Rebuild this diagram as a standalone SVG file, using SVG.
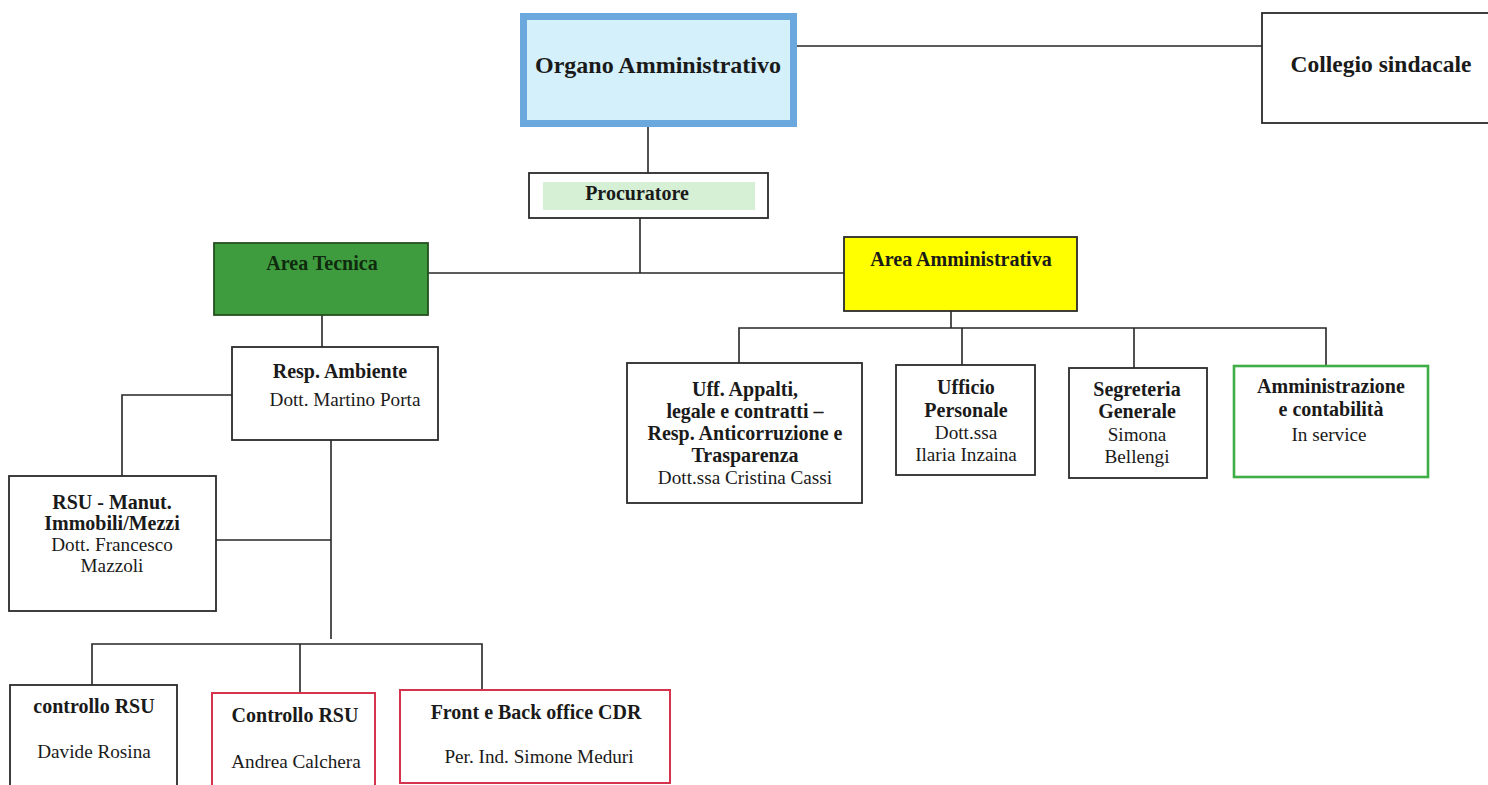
<svg xmlns="http://www.w3.org/2000/svg" width="1488" height="785" viewBox="0 0 1488 785">
<style>
  text { font-family: "Liberation Serif", "Times New Roman", serif; fill: #1a1a1a; text-anchor: middle; }
  .b { font-weight: bold; font-size: 20px; }
  .r { font-size: 19.2px; }
  .big { font-weight: bold; font-size: 23.5px; }
  .box { fill: #ffffff; stroke: #2a2a2a; stroke-width: 1.8; }
  .red { fill: #ffffff; stroke: #d6334f; stroke-width: 2; }
  .grn { fill: #ffffff; stroke: #3fae46; stroke-width: 2.6; }
  .ln { fill: none; stroke: #262626; stroke-width: 1.6; }
</style>
<rect width="1488" height="785" fill="#ffffff"/>

<g id="connectors">
  <path class="ln" d="M797 46 H1262"/>
  <path class="ln" d="M648 127 V173"/>
  <path class="ln" d="M640 218 V273"/>
  <path class="ln" d="M428 273 H844"/>
  <path class="ln" d="M322 315 V347"/>
  <path class="ln" d="M232 395 H122 V476"/>
  <path class="ln" d="M331 440 V639"/>
  <path class="ln" d="M216 540 H331"/>
  <path class="ln" d="M92 685 V644 H482 V690"/>
  <path class="ln" d="M300 644 V693"/>
  <path class="ln" d="M951 311 V328"/>
  <path class="ln" d="M739 363 V328 H1326 V366"/>
  <path class="ln" d="M962 328 V365"/>
  <path class="ln" d="M1134 328 V368"/>
</g>

<g id="organo">
  <rect x="523.5" y="16.5" width="270" height="107" fill="#d4f0fb" stroke="#6ba8dd" stroke-width="7"/>
  <text class="big" x="658" y="73" style="font-size:24px">Organo Amministrativo</text>
</g>

<g id="collegio">
  <rect class="box" x="1262" y="13" width="240" height="110"/>
  <text class="big" x="1381" y="72">Collegio sindacale</text>
</g>

<g id="procuratore">
  <rect class="box" x="529" y="173" width="239" height="45"/>
  <rect x="543" y="182" width="212" height="28" fill="#d6f0d6"/>
  <text class="b" x="637" y="200">Procuratore</text>
</g>

<g id="area-tecnica">
  <rect x="214" y="243" width="214" height="72" fill="#3e9c3e" stroke="#24501f" stroke-width="1.8"/>
  <text class="b" x="322" y="270" style="fill:#0f2a0f">Area Tecnica</text>
</g>

<g id="area-amministrativa">
  <rect x="844" y="237" width="233" height="74" fill="#ffff00" stroke="#2a2a2a" stroke-width="1.8"/>
  <text class="b" x="961" y="266">Area Amministrativa</text>
</g>

<g id="resp-ambiente">
  <rect class="box" x="232" y="347" width="206" height="93"/>
  <text class="b" x="340" y="378">Resp. Ambiente</text>
  <text class="r" x="345" y="406">Dott. Martino Porta</text>
</g>

<g id="rsu-manut">
  <rect class="box" x="9" y="476" width="207" height="135"/>
  <text class="b" x="112" y="509">RSU - Manut.</text>
  <text class="b" x="112" y="530">Immobili/Mezzi</text>
  <text class="r" x="112" y="551">Dott. Francesco</text>
  <text class="r" x="112" y="572">Mazzoli</text>
</g>

<g id="uff-appalti">
  <rect class="box" x="627" y="363" width="235" height="140"/>
  <text class="b" x="745" y="396">Uff. Appalti,</text>
  <text class="b" x="745" y="418">legale e contratti –</text>
  <text class="b" x="745" y="440">Resp. Anticorruzione e</text>
  <text class="b" x="745" y="462">Trasparenza</text>
  <text class="r" x="745" y="484">Dott.ssa Cristina Cassi</text>
</g>

<g id="ufficio-personale">
  <rect class="box" x="896" y="365" width="139" height="110"/>
  <text class="b" x="966" y="394">Ufficio</text>
  <text class="b" x="966" y="417">Personale</text>
  <text class="r" x="966" y="439">Dott.ssa</text>
  <text class="r" x="966" y="461">Ilaria Inzaina</text>
</g>

<g id="segreteria">
  <rect class="box" x="1069" y="368" width="138" height="110"/>
  <text class="b" x="1137" y="396">Segreteria</text>
  <text class="b" x="1137" y="418">Generale</text>
  <text class="r" x="1137" y="441">Simona</text>
  <text class="r" x="1137" y="463">Bellengi</text>
</g>

<g id="amministrazione">
  <rect class="grn" x="1234" y="366" width="194" height="111"/>
  <text class="b" x="1331" y="393">Amministrazione</text>
  <text class="b" x="1331" y="416">e contabilità</text>
  <text class="r" x="1329" y="441">In service</text>
</g>

<g id="controllo-rsu-1">
  <rect class="box" x="10" y="685" width="167" height="110"/>
  <text class="b" x="94" y="713">controllo RSU</text>
  <text class="r" x="94" y="758">Davide Rosina</text>
</g>

<g id="controllo-rsu-2">
  <rect class="red" x="212" y="693" width="163" height="110"/>
  <text class="b" x="295" y="722">Controllo RSU</text>
  <text class="r" x="296" y="768">Andrea Calchera</text>
</g>

<g id="front-back-office">
  <rect class="red" x="400" y="690" width="270" height="93"/>
  <text class="b" x="536" y="719">Front e Back office CDR</text>
  <text class="r" x="539" y="763">Per. Ind. Simone Meduri</text>
</g>
</svg>
